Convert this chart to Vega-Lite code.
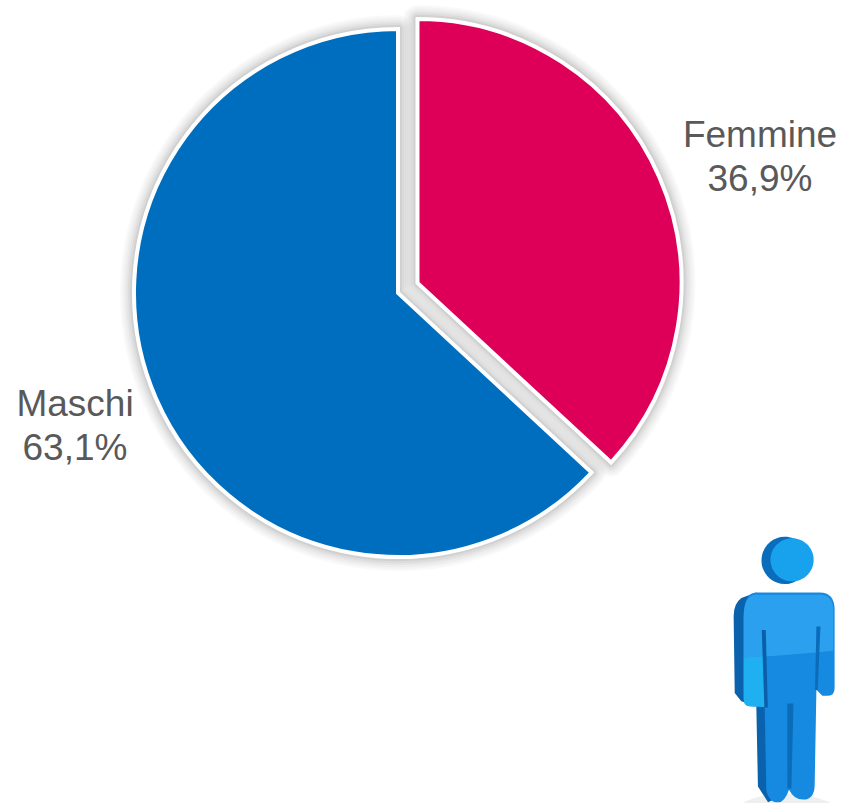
{
"$schema":"https://vega.github.io/schema/vega-lite/v6.json",
"width":843,"height":803,"padding":0,"autosize":{"type":"none"},
"background":"white","view":{"stroke":null},
"datasets":{
"pie":[{"genere":"Femmine","quota":36.9,"ordine":1,"etichetta":"Femmine\n36,9%"},{"genere":"Maschi","quota":63.1,"ordine":2,"etichetta":"Maschi\n63,1%"}],
"figura":[{"parte":"ombra"},{"parte":"retro"},{"parte":"corpo"},{"parte":"alto"},{"parte":"braccio"},{"parte":"fessura1"},{"parte":"fessura2"},{"parte":"fessura3"},{"parte":"testaRetro"},{"parte":"testa"}]
},
"data":{"name":"pie"},
"transform":[{"stack":"quota","sort":[{"field":"ordine"}],"as":["da","a"]}],
"encoding":{"theta":{"field":"da","type":"quantitative","scale":{"domain":[0,100]}},"theta2":{"field":"a"}},
"layer":[
{"mark":{"type":"arc","x":398,"y":293,"radius":264,"stroke":"black","strokeOpacity":0.022,"strokeWidth":28,"strokeJoin":"round","fill":null},"transform":[{"filter":"datum.genere==='Maschi'"}]},
{"mark":{"type":"arc","x":398,"y":293,"radius":264,"stroke":"black","strokeOpacity":0.022,"strokeWidth":24,"strokeJoin":"round","fill":null},"transform":[{"filter":"datum.genere==='Maschi'"}]},
{"mark":{"type":"arc","x":398,"y":293,"radius":264,"stroke":"black","strokeOpacity":0.022,"strokeWidth":20,"strokeJoin":"round","fill":null},"transform":[{"filter":"datum.genere==='Maschi'"}]},
{"mark":{"type":"arc","x":398,"y":293,"radius":264,"stroke":"black","strokeOpacity":0.03,"strokeWidth":16,"strokeJoin":"round","fill":null},"transform":[{"filter":"datum.genere==='Maschi'"}]},
{"mark":{"type":"arc","x":398,"y":293,"radius":264,"stroke":"black","strokeOpacity":0.04,"strokeWidth":12,"strokeJoin":"round","fill":null},"transform":[{"filter":"datum.genere==='Maschi'"}]},
{"mark":{"type":"arc","x":398,"y":293,"radius":264,"stroke":"black","strokeOpacity":0.05,"strokeWidth":8,"strokeJoin":"round","fill":null},"transform":[{"filter":"datum.genere==='Maschi'"}]},
{"mark":{"type":"arc","x":417.5,"y":283,"radius":264,"stroke":"black","strokeOpacity":0.022,"strokeWidth":28,"strokeJoin":"round","fill":null},"transform":[{"filter":"datum.genere==='Femmine'"}]},
{"mark":{"type":"arc","x":417.5,"y":283,"radius":264,"stroke":"black","strokeOpacity":0.022,"strokeWidth":24,"strokeJoin":"round","fill":null},"transform":[{"filter":"datum.genere==='Femmine'"}]},
{"mark":{"type":"arc","x":417.5,"y":283,"radius":264,"stroke":"black","strokeOpacity":0.022,"strokeWidth":20,"strokeJoin":"round","fill":null},"transform":[{"filter":"datum.genere==='Femmine'"}]},
{"mark":{"type":"arc","x":417.5,"y":283,"radius":264,"stroke":"black","strokeOpacity":0.03,"strokeWidth":16,"strokeJoin":"round","fill":null},"transform":[{"filter":"datum.genere==='Femmine'"}]},
{"mark":{"type":"arc","x":417.5,"y":283,"radius":264,"stroke":"black","strokeOpacity":0.04,"strokeWidth":12,"strokeJoin":"round","fill":null},"transform":[{"filter":"datum.genere==='Femmine'"}]},
{"mark":{"type":"arc","x":417.5,"y":283,"radius":264,"stroke":"black","strokeOpacity":0.05,"strokeWidth":8,"strokeJoin":"round","fill":null},"transform":[{"filter":"datum.genere==='Femmine'"}]},
{"mark":{"type":"arc","x":398,"y":293,"radius":264,"stroke":"white","strokeWidth":4,"strokeJoin":"miter"},"transform":[{"filter":"datum.genere==='Maschi'"}],"encoding":{"color":{"value":"#006EBE"}}},
{"mark":{"type":"arc","x":417.5,"y":283,"radius":264,"stroke":"white","strokeWidth":4,"strokeJoin":"miter"},"transform":[{"filter":"datum.genere==='Femmine'"}],"encoding":{"color":{"value":"#DE0058"}}},
{"transform":[{"filter":"datum.genere==='Femmine'"}],"mark":{"type":"text","x":760,"y":147,"font":"Liberation Sans","fontSize":37,"lineBreak":"\n","lineHeight":43.5,"align":"center","baseline":"alphabetic","fill":"#595959"},"encoding":{"theta":null,"theta2":null,"text":{"field":"etichetta"}}},
{"transform":[{"filter":"datum.genere==='Maschi'"}],"mark":{"type":"text","x":75,"y":416,"font":"Liberation Sans","fontSize":37,"lineBreak":"\n","lineHeight":43.5,"align":"center","baseline":"alphabetic","fill":"#595959"},"encoding":{"theta":null,"theta2":null,"text":{"field":"etichetta"}}},
{"data":{"name":"figura"},"transform":[],"mark":{"type":"point","filled":true,"x":784.67,"y":663,"size":72900,"opacity":1,"strokeWidth":0},
"encoding":{
"theta":null,"theta2":null,
"color":{"field":"parte","type":"nominal","legend":null,"scale":{"domain":["ombra","retro","corpo","alto","braccio","fessura1","fessura2","fessura3","testaRetro","testa"],"range":["#EFEFEF","#0A62AD","#1689E0","#2AA0EE","#1FB0F2","#0B5FA8","#0B6CBA","#0B6CBA","#0A6DBB","#18A2EE"]}},
"shape":{"field":"parte","type":"nominal","legend":null,"scale":{"domain":["ombra","retro","corpo","alto","braccio","fessura1","fessura2","fessura3","testaRetro","testa"],"range":[
"M-.3 1.03Q0 .9 .33 1.03L.33 1.1L-.3 1.1Z",
"M-.21 -.523L-.321 -.481Q-.378 -.44 -.378 -.346L-.37 .222L-.321 .284L-.21 .321L-.198 .914L-.123 1.032L-.037 .988L-.037 -.296Z",
"M-.21 -.523L.259 -.523Q.37 -.523 .37 -.395L.37 .185Q.37 .242 .321 .242L.279 .242L.235 .198L.222 .914Q.215 1.012 .136 1.012Q.07 1.012 .032 .938Q0 1.032 -.049 1.032Q-.12 1.032 -.136 .938L-.148 .326L-.259 .321Q-.304 .321 -.304 .259L-.304 -.333Q-.304 -.523 -.21 -.523Z",
"M-.21 -.505L.259 -.505Q.36 -.505 .36 -.39L.36 -.09Q.1 -.06 -.304 -.04L-.304 -.333Q-.304 -.505 -.21 -.505Z",
"M-.304 -.04L-.155 -.05L-.148 .326L-.259 .321Q-.304 .321 -.304 .259Z",
"M-.17 -.245L-.14 -.245L-.125 .33L-.15 .33Z",
"M.235 -.27L.265 -.27L.245 .2L.225 .2Z",
"M.02 .3L.065 .3L.05 .93L.02 .93Z",
"M0 -.935A.172 .175 0 1 0 0 -.585A.172 .175 0 1 0 0 -.935Z",
"M.055 -.925A.16 .16 0 1 0 .055 -.605A.16 .16 0 1 0 .055 -.925Z"
]}}
}}
]
}
